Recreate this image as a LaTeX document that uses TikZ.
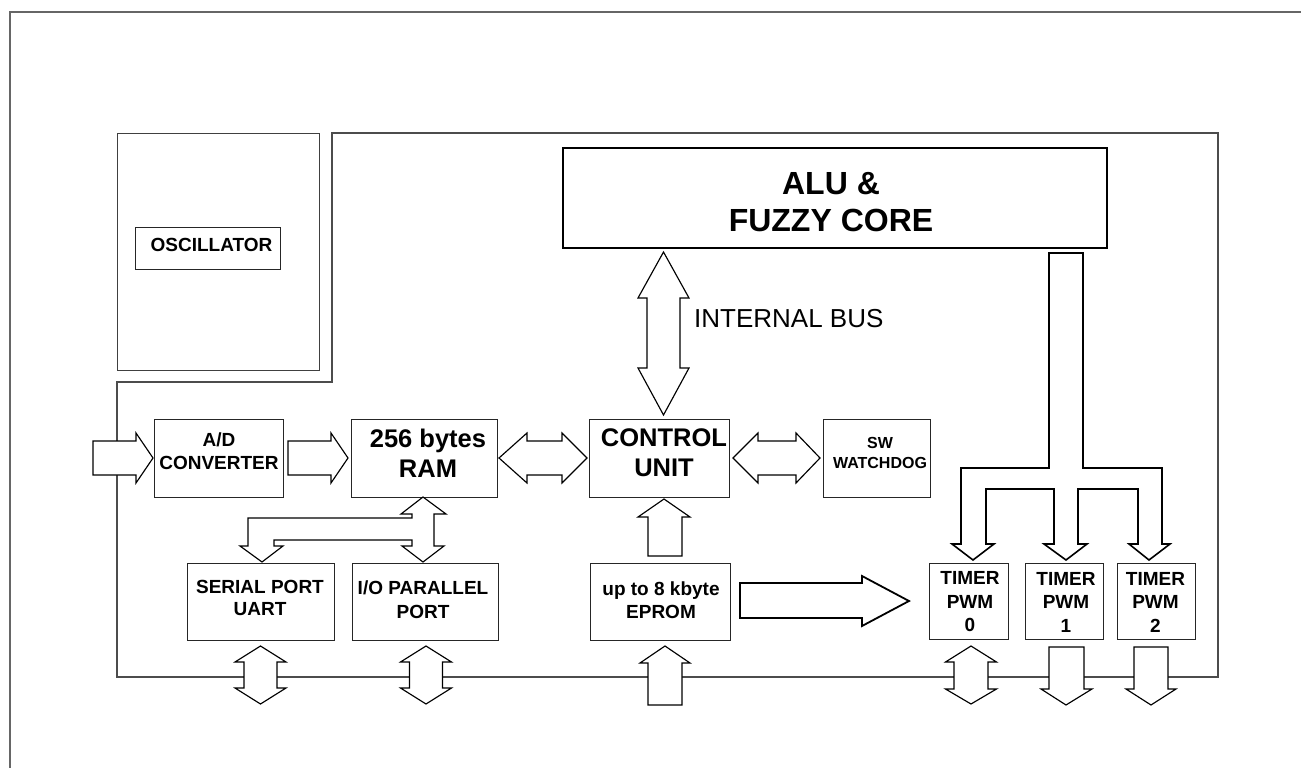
\documentclass[tikz,border=0pt]{standalone}
\usepackage{fontspec}
\setmainfont{Liberation Sans}
\usetikzlibrary{calc}
\begin{document}
\begin{tikzpicture}[x=1pt,y=-1pt,
  blk/.style={draw=black!85, line width=1pt, inner sep=0pt, outer sep=0pt, fill=white},
  thickblk/.style={blk, line width=2pt, draw=black},
  barrow/.style={draw=black, line width=1.15pt, fill=white, line join=miter},
  thickarrow/.style={barrow, line width=1.8pt},
  frm/.style={draw=black!70, line width=1.1pt},
  outerfrm/.style={draw=black!60, line width=1.8pt},
  txtS/.style={font={\fontsize{19}{23}\selectfont\bfseries}, align=center, inner sep=0pt},
  txtW/.style={font={\fontsize{16}{20}\selectfont\bfseries}, align=center, inner sep=0pt},
  txtM/.style={font={\fontsize{25.5}{30}\selectfont\bfseries}, align=center, inner sep=0pt},
  txtL/.style={font={\fontsize{32}{37.5}\selectfont\bfseries}, align=center, inner sep=0pt},
  txtBus/.style={font={\fontsize{26}{30}\selectfont}, inner sep=0pt}
]
\useasboundingbox (0,0) rectangle (1301,768);

% outer frames
\draw[outerfrm] (10,772) -- (10,12) -- (1305,12);
\draw[frm] (117,382) -- (332,382) -- (332,133) -- (1218,133) -- (1218,677) -- (117,677) -- cycle;

% oscillator
\node[blk, draw=black!75, minimum width=202pt, minimum height=237pt] (oscout) at (218,251.5) {};
\node[blk, minimum width=145pt, minimum height=42pt] (osc) at (207.5,248) {};
\node[txtS] (oscT) at (211.5,244.5) {OSCILLATOR};

% blocks
\node[blk, minimum width=129pt, minimum height=78pt] (ad) at (218.5,458) {};
\node[txtS] (adT) at (219,451) {A/D\\CONVERTER};

\node[blk, minimum width=146pt, minimum height=78pt] (ram) at (424,458) {};
\node[txtM] (ramT) at (428,453) {256 bytes\\RAM};

\node[blk, minimum width=140pt, minimum height=78pt] (cu) at (659,458) {};
\node[txtM] (cuT) at (664,453) {CONTROL\\UNIT};

\node[blk, minimum width=107pt, minimum height=78pt] (wd) at (876.5,458) {};
\node[txtW] (wdT) at (880,453) {SW\\WATCHDOG};

\node[thickblk, minimum width=544pt, minimum height=100pt] (alu) at (835,198) {};
\node[txtL] (aluT) at (831,202) {ALU \&\\FUZZY CORE};

\node[blk, minimum width=147pt, minimum height=77pt] (ser) at (260.5,601.5) {};
\node[txtS, font={\fontsize{19}{21.5}\selectfont\bfseries}] (serT) at (260,598) {SERIAL PORT\\UART};

\node[blk, minimum width=146pt, minimum height=77pt] (par) at (425,601.5) {};
\node[txtS, font={\fontsize{19}{24}\selectfont\bfseries}] (parT) at (423,600) {I/O PARALLEL\\PORT};

\node[blk, minimum width=140pt, minimum height=77pt] (eprom) at (660,601.5) {};
\node[txtS] (epromT) at (661,600) {up to 8 kbyte\\EPROM};

\node[blk, minimum width=79pt, minimum height=76pt] (t0) at (968.5,601) {};
\node[txtS, font={\fontsize{19}{23.5}\selectfont\bfseries}] (t0T) at (970,602) {TIMER\\PWM\\0};
\node[blk, minimum width=78pt, minimum height=76pt] (t1) at (1064,601) {};
\node[txtS, font={\fontsize{19}{23.5}\selectfont\bfseries}] (t1T) at (1066,602) {TIMER\\PWM\\1};
\node[blk, minimum width=78pt, minimum height=76pt] (t2) at (1156,601) {};
\node[txtS, font={\fontsize{19}{23.5}\selectfont\bfseries}] (t2T) at (1155.5,602) {TIMER\\PWM\\2};

\node[txtBus, anchor=west] (busT) at (694,318.5) {INTERNAL BUS};

% input -> A/D
\draw[barrow] ($(ad.west)+(-61,-17)$) -- ++(43,0) -- ++(0,-8) -- ($(ad.west)+(-1,0)$)
  -- ++(-17,25) -- ++(0,-8) -- ++(-43,0) -- cycle;
% A/D -> RAM
\draw[barrow] ($(ad.east)+(5,-17)$) -- ++(43,0) -- ++(0,-8) -- ($(ram.west)+(-3,0)$)
  -- ++(-17,25) -- ++(0,-8) -- ++(-43,0) -- cycle;
% RAM <-> CONTROL
\draw[barrow] ($(ram.east)+(2,0)$) -- ++(28,-25) -- ++(0,8) -- ++(35,0) -- ++(0,-8)
  -- ($(cu.west)+(-2,0)$) -- ++(-25,25) -- ++(0,-8) -- ++(-35,0) -- ++(0,8) -- cycle;
% CONTROL <-> WATCHDOG
\draw[barrow] ($(cu.east)+(4,0)$) -- ++(25,-25) -- ++(0,8) -- ++(38,0) -- ++(0,-8)
  -- ($(wd.west)+(-3,0)$) -- ++(-24,25) -- ++(0,-8) -- ++(-38,0) -- ++(0,8) -- cycle;
% internal bus ALU <-> CONTROL
\draw[barrow] ($(cu.north |- alu.south)+(4.5,4)$) -- ++(25.5,46) -- ++(-9,0) -- ++(0,70)
  -- ++(9,0) -- ($(cu.north)+(4.5,-4)$) -- ++(-25.5,-47) -- ++(9,0) -- ++(0,-70)
  -- ++(-9,0) -- cycle;
% EPROM -> CONTROL
\draw[barrow] ($(cu.south)+(5,2)$) -- ++(26,18) -- ++(-8,0) -- ++(0,39) -- ++(-34,0)
  -- ++(0,-39) -- ++(-10,0) -- cycle;
% EPROM -> TIMER 0
\draw[thickarrow] ($(eprom.east)+(10,-18.5)$) -- ++(122,0) -- ++(0,-7) -- ($(t0.west)+(-20,0)$)
  -- ++(-47,25) -- ++(0,-8) -- ++(-122,0) -- cycle;
% RAM <-> serial / parallel ports
\draw[barrow] ($(ram.south)+(-1,0)$) -- ++(23,17) -- ++(-12,0) -- ++(0,32) -- ++(10,0)
  -- ($(par.north)+(-2,-1)$) -- ++(-21,-16) -- ++(10,0) -- ++(0,-6) -- ++(-138,0)
  -- ++(0,6) -- ++(9,0) -- ($(ser.north)+(1.5,-1)$) -- ++(-22,-16) -- ++(8,0)
  -- ++(0,-28) -- ++(164,0) -- ++(0,-4) -- ++(-11,0) -- cycle;
% ALU -> timers
\draw[thickarrow, line width=1.6pt] ($(alu.south)+(214,5)$) -- ++(0,215) -- ++(-88,0) -- ++(0,76) -- ++(-9,0)
  -- ($(t0.north)+(4.5,-3)$) -- ++(21,-16) -- ++(-8,0) -- ++(0,-55) -- ++(68,0) -- ++(0,55)
  -- ++(-10,0) -- ($(t1.north)+(2,-3)$) -- ++(21,-16) -- ++(-9,0) -- ++(0,-55) -- ++(60,0)
  -- ++(0,55) -- ++(-9,0) -- ($(t2.north)+(-7,-3)$) -- ++(21,-16) -- ++(-8,0) -- ++(0,-76)
  -- ++(-79,0) -- ++(0,-215) -- cycle;

% bottom external arrows
\draw[barrow] ($(ser.south)+(0,6)$) -- ++(25.5,16) -- ++(-9,0) -- ++(0,26) -- ++(9,0)
  -- ++(-25.5,16) -- ++(-25.5,-16) -- ++(9,0) -- ++(0,-26) -- ++(-9,0) -- cycle;
\draw[barrow] ($(par.south)+(1,6)$) -- ++(25.5,16) -- ++(-9,0) -- ++(0,26) -- ++(9,0)
  -- ++(-25.5,16) -- ++(-25.5,-16) -- ++(9,0) -- ++(0,-26) -- ++(-9,0) -- cycle;
\draw[barrow] ($(eprom.south)+(5,6)$) -- ++(25,17) -- ++(-8,0) -- ++(0,42) -- ++(-34,0)
  -- ++(0,-42) -- ++(-8,0) -- cycle;
\draw[barrow] ($(t0.south)+(2.5,7)$) -- ++(25.5,16) -- ++(-8.5,0) -- ++(0,27) -- ++(8.5,0)
  -- ++(-25.5,15) -- ++(-25.5,-15) -- ++(8.5,0) -- ++(0,-27) -- ++(-8.5,0) -- cycle;
\draw[barrow] ($(t1.south)+(-15,8)$) -- ++(35,0) -- ++(0,42) -- ++(8,0) -- ++(-26,16)
  -- ++(-25,-16) -- ++(8,0) -- cycle;
\draw[barrow] ($(t2.south)+(-22,8)$) -- ++(34,0) -- ++(0,42) -- ++(8,0) -- ++(-25,16)
  -- ++(-25,-16) -- ++(8,0) -- cycle;
\end{tikzpicture}
\end{document}
